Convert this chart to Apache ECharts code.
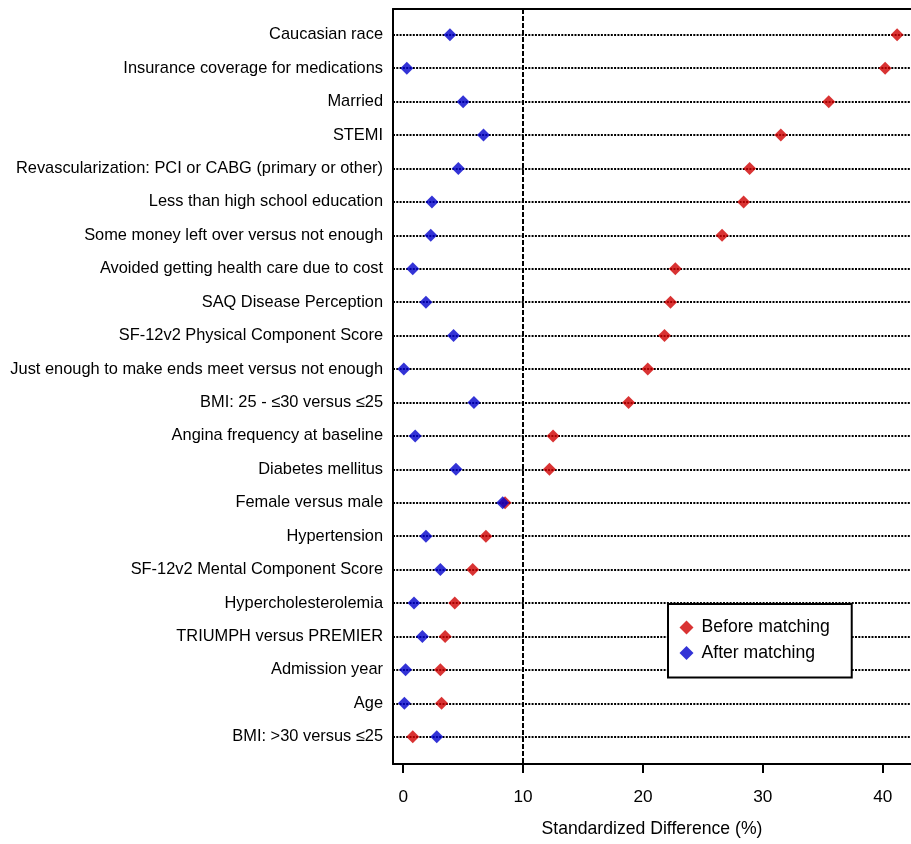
<!DOCTYPE html>
<html><head><meta charset="utf-8">
<script src="https://cdn.jsdelivr.net/npm/echarts@6/dist/echarts.min.js"></script>
<style>html,body{margin:0;padding:0;background:#fff}#c{width:911px;height:844px}</style>
</head><body><div id="c"></div>
<script>
const categories = [
  'Caucasian race',
  'Insurance coverage for medications',
  'Married',
  'STEMI',
  'Revascularization: PCI or CABG (primary or other)',
  'Less than high school education',
  'Some money left over versus not enough',
  'Avoided getting health care due to cost',
  'SAQ Disease Perception',
  'SF-12v2 Physical Component Score',
  'Just enough to make ends meet versus not enough',
  'BMI: 25 - \u226430 versus \u226425',
  'Angina frequency at baseline',
  'Diabetes mellitus',
  'Female versus male',
  'Hypertension',
  'SF-12v2 Mental Component Score',
  'Hypercholesterolemia',
  'TRIUMPH versus PREMIER',
  'Admission year',
  'Age',
  'BMI: >30 versus \u226425'
];
const beforeMatching = [41.2, 40.2, 35.5, 31.5, 28.9, 28.4, 26.6, 22.7, 22.3, 21.8, 20.4, 18.8, 12.5, 12.2, 8.5, 6.9, 5.8, 4.3, 3.5, 3.1, 3.2, 0.8];
const afterMatching  = [3.9, 0.3, 5.0, 6.7, 4.6, 2.4, 2.3, 0.8, 1.9, 4.2, 0.05, 5.9, 1.0, 4.4, 8.3, 1.9, 3.1, 0.9, 1.6, 0.2, 0.1, 2.8];
const xTicks = [0, 10, 20, 30, 40];
const threshold = 10;

function hasFont(name){
  const c = document.createElement('canvas').getContext('2d');
  const s = 'abcdefghijklmnopqrstuvwxyzABCDEFGHIJKLMNOPQRSTUVWXYZ0123456789';
  c.font = '40px monospace'; const a = c.measureText(s).width;
  c.font = '40px "' + name + '", monospace'; const b = c.measureText(s).width;
  return Math.abs(a - b) > 0.5;
}
const narrow = hasFont('Liberation Sans Narrow');
const fam = narrow ? '"Liberation Sans Narrow", "Liberation Sans", Arial, sans-serif' : '"Liberation Sans", Arial, sans-serif';
const k = narrow ? 1 : 0.82;
const fsRow = 20 * k, fsTick = 21 * k, fsTitle = 21.5 * k, fsLegend = 21.5 * k;

const RED = '#d00000', BLUE = '#0000cc';
const X_MIN = -0.85, X_MAX = 42.36;

const chart = echarts.init(document.getElementById('c'), null, {renderer: 'canvas'});
chart.setOption({
  animation: false,
  backgroundColor: '#fff',
  textStyle: {fontFamily: fam, color: '#000'},
  grid: {left: 393, right: 0, top: 9, bottom: 80, containLabel: false},
  legend: {
    orient: 'vertical', left: 668, top: 604,
    padding: [14.5, 22, 15.5, 11.5], itemWidth: 14, itemHeight: 14, itemGap: 7.6,
    symbolKeepAspect: true,
    borderColor: '#000', borderWidth: 2, backgroundColor: '#fff',
    textStyle: {fontFamily: fam, fontSize: fsLegend, color: '#000', padding: [0, 0, 0, 3]},
    data: [{name: 'Before matching', icon: 'diamond'}, {name: 'After matching', icon: 'diamond'}],
    selectedMode: false, z: 10
  },
  xAxis: [{
    type: 'value', position: 'bottom', min: X_MIN, max: X_MAX,
    name: 'Standardized Difference (%)', nameLocation: 'middle', nameGap: 56,
    nameTextStyle: {fontFamily: fam, fontSize: fsTitle, color: '#000'},
    axisLine: {show: true, onZero: false, lineStyle: {color: '#000', width: 2}},
    axisTick: {show: true, length: 9, lineStyle: {color: '#000', width: 2}, customValues: xTicks},
    axisLabel: {show: true, margin: 25, fontFamily: fam, fontSize: fsTick, color: '#000', customValues: xTicks},
    splitLine: {show: false}
  }, {
    type: 'value', position: 'top', min: X_MIN, max: X_MAX,
    axisLine: {show: true, onZero: false, lineStyle: {color: '#000', width: 2}},
    axisTick: {show: false}, axisLabel: {show: false}, splitLine: {show: false}
  }],
  yAxis: {
    type: 'value', inverse: true, min: -0.772, max: 21.817,
    axisLine: {show: true, onZero: false, lineStyle: {color: '#000', width: 2}},
    axisTick: {show: false, customValues: categories.map((c, i) => i)},
    axisLabel: {
      show: true, margin: 10, fontFamily: fam, fontSize: fsRow, color: '#000',
      customValues: categories.map((c, i) => i),
      formatter: v => categories[Math.round(v)] || ''
    },
    splitLine: {show: false}
  },
  series: [{
    name: 'Before matching', type: 'scatter', symbol: 'diamond', symbolSize: 13,
    itemStyle: {color: RED}, emphasis: {disabled: true}, silent: true, z: 3,
    data: beforeMatching.map((v, i) => [v, i]),
    markLine: {
      silent: true, symbol: 'none', z: 1, animation: false,
      label: {show: false},
      lineStyle: {color: '#000', width: 2, type: [2, 1.3]},
      emphasis: {disabled: true},
      data: categories.map((c, i) => ({yAxis: i}))
    }
  }, {
    name: 'After matching', type: 'scatter', symbol: 'diamond', symbolSize: 13,
    itemStyle: {color: BLUE}, emphasis: {disabled: true}, silent: true, z: 4,
    data: afterMatching.map((v, i) => [v, i]),
    markLine: {
      silent: true, symbol: 'none', z: 1, animation: false,
      label: {show: false},
      lineStyle: {color: '#000', width: 2, type: [5, 2]},
      emphasis: {disabled: true},
      data: [{xAxis: threshold}]
    }
  }]
});
</script>
</body></html>
